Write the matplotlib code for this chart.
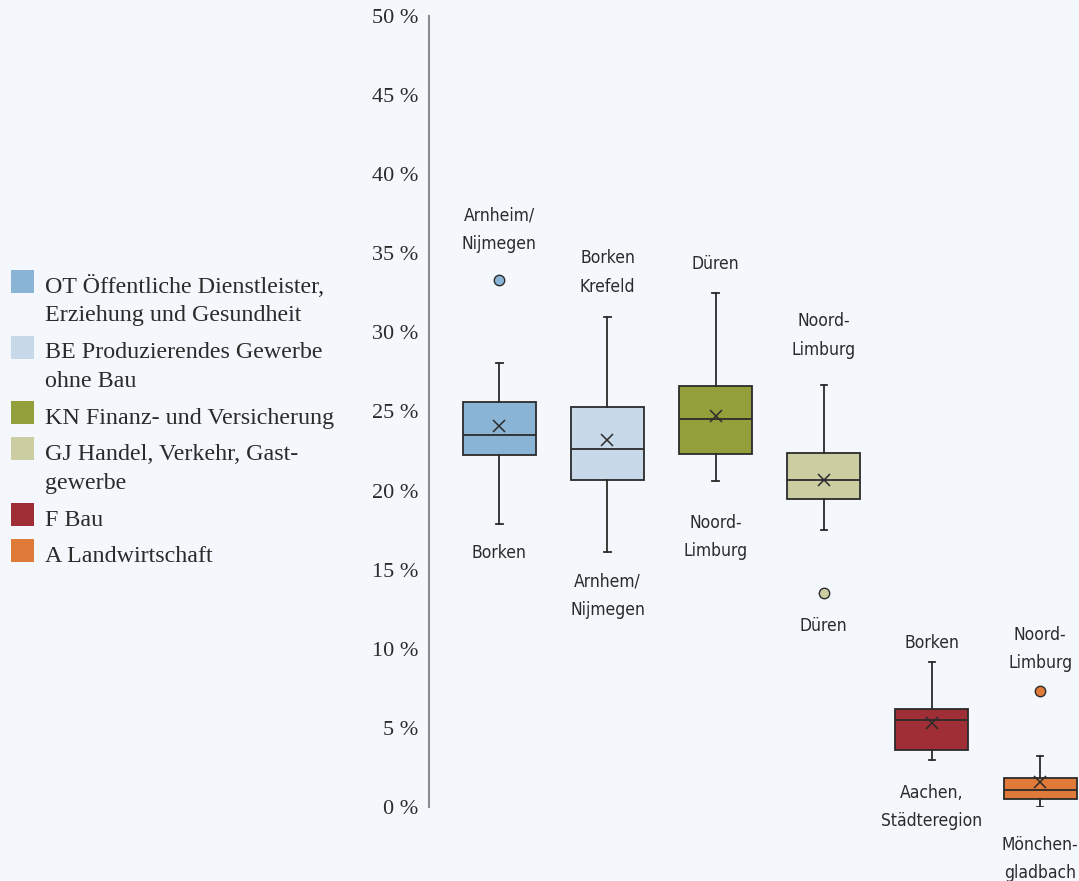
import matplotlib
matplotlib.use("Agg")
import matplotlib.pyplot as plt
from matplotlib import font_manager
from matplotlib.patches import Rectangle

# Sector legend labels and colours
categories = [
    "OT Öffentliche Dienstleister,\nErziehung und Gesundheit",
    "BE Produzierendes Gewerbe\nohne Bau",
    "KN Finanz- und Versicherung",
    "GJ Handel, Verkehr, Gast-\ngewerbe",
    "F Bau",
    "A Landwirtschaft",
]
colors = ["#8ab4d6", "#c8d9ea", "#939f3b", "#cccda0", "#a02e36", "#e07a38"]

# Box statistics (share in %)
whisker_low = [17.9, 16.1, 20.6, 17.5, 3.0, 0.0]
q1 = [22.25, 20.7, 22.3, 19.45, 3.6, 0.5]
median = [23.5, 22.6, 24.5, 20.7, 5.5, 1.05]
mean = [24.1, 23.2, 24.7, 20.65, 5.3, 1.55]
q3 = [25.6, 25.3, 26.6, 22.4, 6.2, 1.85]
whisker_high = [28.05, 30.95, 32.5, 26.7, 9.15, 3.2]
outliers = [[33.3], [], [], [13.5], [], [7.35]]

# Regions marking the upper and lower extremes
top_regions = ["Arnheim/\nNijmegen", "Borken\nKrefeld", "Düren",
               "Noord-\nLimburg", "Borken", "Noord-\nLimburg"]
bottom_regions = ["Borken", "Arnhem/\nNijmegen", "Noord-\nLimburg",
                  "Düren", "Aachen,\nStädteregion", "Mönchen-\ngladbach"]

yticks = [0, 5, 10, 15, 20, 25, 30, 35, 40, 45, 50]
ytick_labels = [f"{v} %" for v in yticks]


def narrow_sans():
    """Pick a condensed sans-serif face if one is installed."""
    prefs = ["LiberationSansNarrow-Regular", "DejaVuSansCondensed.",
             "RobotoCondensed-Regular", "NotoSans-Condensed.",
             "OpenSans_Condensed-Regular", "OpenSansCondensed",
             "NotoSans-CondensedMedium", "Roboto-Condensed"]
    files = [f.fname for f in font_manager.fontManager.ttflist]
    for p in prefs:
        for fn in files:
            if p.lower() in fn.lower():
                return font_manager.FontProperties(fname=fn), True
    for fn in files:
        low = fn.lower()
        if ("condensed" in low or "narrow" in low) and "sans" in low \
                and "bold" not in low and "italic" not in low \
                and "mono" not in low and "serif" not in low \
                and "semi" not in low and "extra" not in low:
            return font_manager.FontProperties(fname=fn), True
    return font_manager.FontProperties(family="Roboto"), False


BG = "#f4f7fc"
EDGE = "#2b2b2b"
W, H = 1079, 881

fig = plt.figure(figsize=(W / 100, H / 100), dpi=100, facecolor=BG)
ax = fig.add_axes([429 / W, 1 - 807 / H, 1 - 429 / W, (807 - 16) / H])
ax.set_facecolor(BG)

stats = []
for i in range(len(categories)):
    stats.append(dict(whislo=whisker_low[i], q1=q1[i], med=median[i],
                      q3=q3[i], whishi=whisker_high[i], mean=mean[i],
                      fliers=outliers[i]))

positions = list(range(len(categories)))
bp = ax.bxp(stats, positions=positions, widths=0.675, patch_artist=True,
            showmeans=True, capwidths=0.06,
            boxprops=dict(edgecolor=EDGE, linewidth=1.3),
            medianprops=dict(color=EDGE, linewidth=1.3),
            whiskerprops=dict(color=EDGE, linewidth=1.3),
            capprops=dict(color=EDGE, linewidth=1.3),
            meanprops=dict(marker="x", markeredgecolor=EDGE,
                           markersize=8, markeredgewidth=1.1))
for box, c in zip(bp["boxes"], colors):
    box.set_facecolor(c)
for fl, c in zip(bp["fliers"], colors):
    fl.set(marker="o", markerfacecolor=c, markeredgecolor=EDGE,
           markersize=7.5, markeredgewidth=1.0)

ax.set_xlim(-0.65, 5.36)
ax.set_ylim(0, 50)
ax.set_yticks(yticks)
ax.set_yticklabels(ytick_labels, family="Liberation Serif", fontsize=16,
                   color="#2b2b2b")
ax.tick_params(axis="y", length=0, pad=8)
ax.set_xticks([])
for side in ("top", "right", "bottom"):
    ax.spines[side].set_visible(False)
ax.spines["left"].set_color("#8a8a8a")
ax.spines["left"].set_linewidth(1.5)

# Region names above and below each box
fp, is_narrow = narrow_sans()
fp = fp.copy()
fp.set_size(12.5 if is_narrow else 11.5)
label_font = dict(fontproperties=fp, color="#2b2b2b", ha="center",
                  va="center", linespacing=1.75)
top_offsets = [50.7, 44.8, 28.7, 49.3, 19.0, 41.7]
bottom_offsets = [28.7, 43.5, 55.9, 33.0, 47.7, 52.0]
for i in positions:
    top_val = max([whisker_high[i]] + outliers[i])
    low_val = min([whisker_low[i]] + outliers[i])
    ax.annotate(top_regions[i], xy=(i, top_val),
                xytext=(0, top_offsets[i]), textcoords="offset pixels",
                annotation_clip=False, **label_font)
    ax.annotate(bottom_regions[i], xy=(i, low_val),
                xytext=(0, -bottom_offsets[i]), textcoords="offset pixels",
                annotation_clip=False, **label_font)

# Legend on the left
baseline = 293
for label, c in zip(categories, colors):
    lines = label.split("\n")
    fig.add_artist(Rectangle((11 / W, 1 - baseline / H), 23 / W, 23 / H,
                             transform=fig.transFigure, facecolor=c,
                             edgecolor="none"))
    for k, line in enumerate(lines):
        fig.text(45 / W, 1 - (baseline + 28.5 * k) / H, line,
                 family="Liberation Serif", fontsize=17.3, color="#2b2b2b",
                 va="baseline", ha="left")
    baseline += 36 + 29.5 * (len(lines) - 1)

fig.savefig("out.png", dpi=100, facecolor=BG)
